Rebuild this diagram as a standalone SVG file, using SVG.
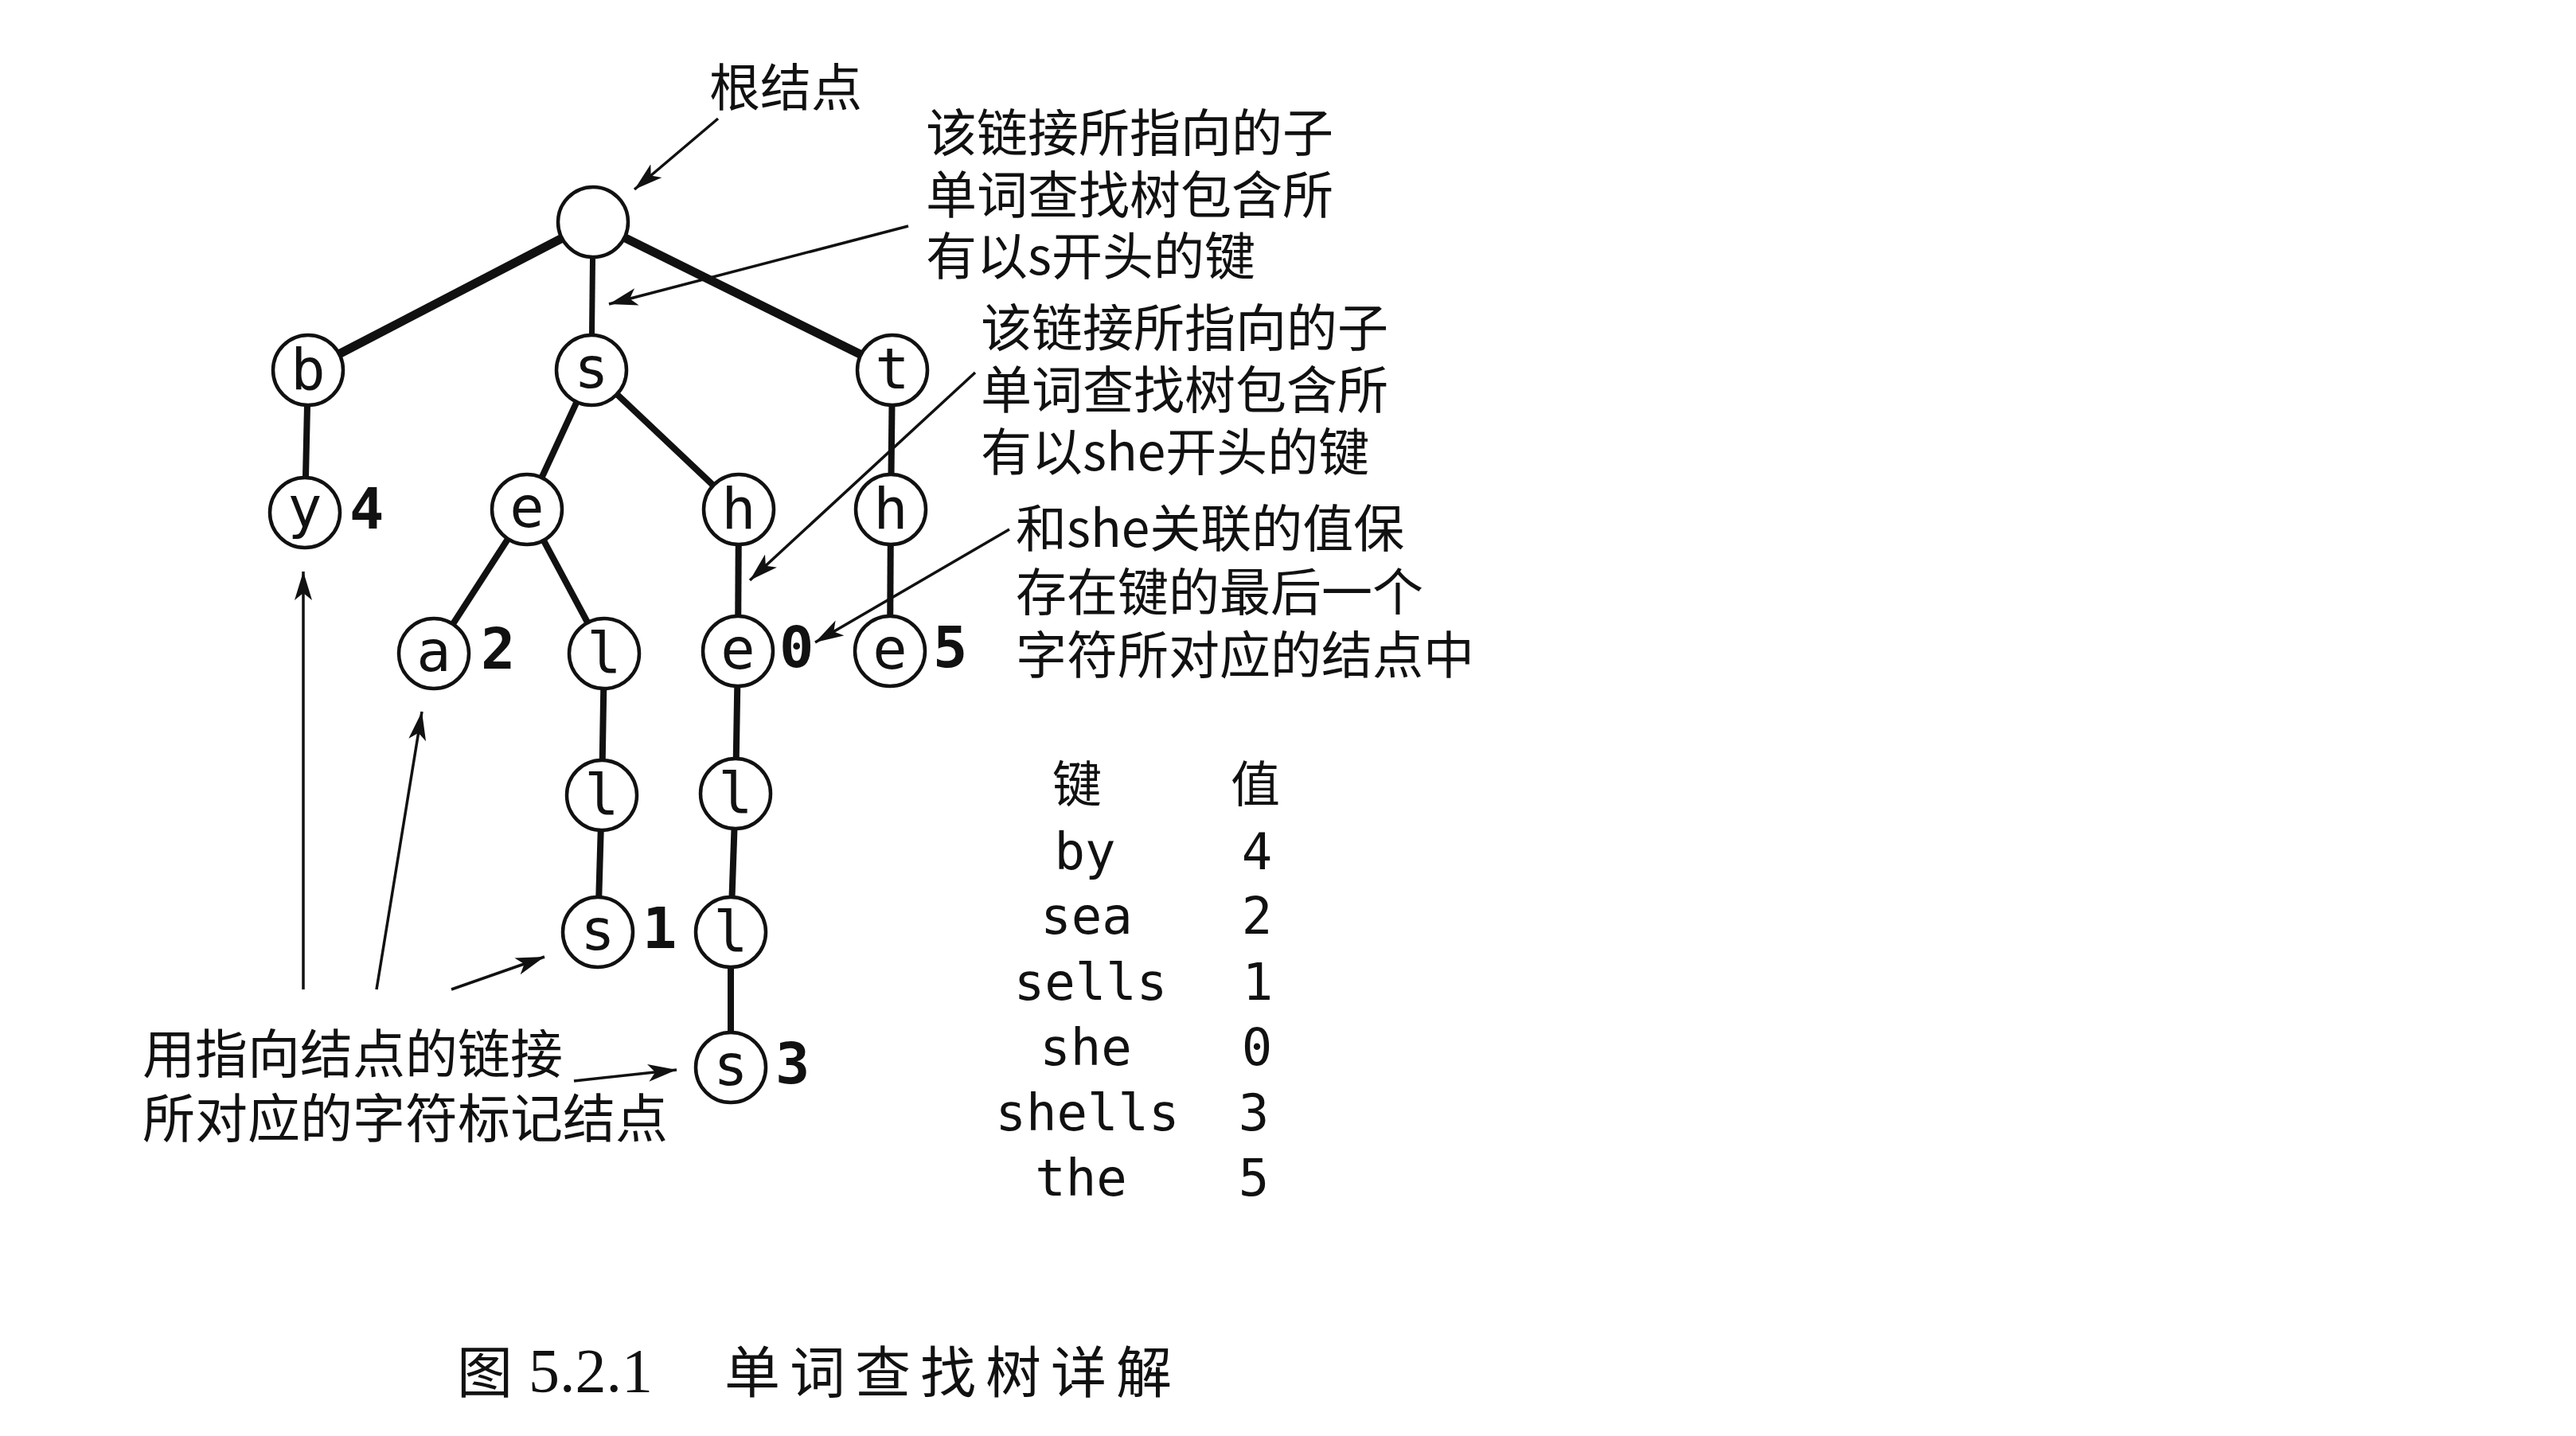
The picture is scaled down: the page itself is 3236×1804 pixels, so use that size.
<svg xmlns="http://www.w3.org/2000/svg" width="3236" height="1804" viewBox="0 0 3236 1804">
  <defs>
    <style>
      .edge { stroke: #111; stroke-width: 8; stroke-linecap: butt; fill: none; }
      .thick { stroke-width: 11; }
      .thin { stroke-width: 7; }
      .ann { stroke: #111; stroke-width: 3.5; fill: none; marker-end: url(#arrow); }
      .node circle { fill: #fff; stroke: #111; stroke-width: 4.5; }
      .node text { font-family: "DejaVu Sans Mono", "Liberation Mono", monospace; font-size: 72px; text-anchor: middle; fill: #111; }
      .val { font-family: "DejaVu Sans", "Liberation Sans", sans-serif; font-weight: bold; font-size: 57px; fill: #111; }
      .cjk { font-family: "Noto Sans CJK SC", "Noto Sans", sans-serif; font-size: 64px; fill: #111; }
      .mono { font-family: "DejaVu Sans Mono", "Liberation Mono", monospace; font-size: 64px; fill: #111; text-anchor: middle; }
      .cap { font-family: "Noto Sans CJK SC", sans-serif; font-size: 70px; fill: #111; }
      .capnum { font-family: "Liberation Serif", serif; font-size: 78px; fill: #111; }
    </style>
    <marker id="arrow" viewBox="0 0 36 22" refX="36" refY="11" markerWidth="36" markerHeight="22" markerUnits="userSpaceOnUse" orient="auto">
      <path d="M0,0 L36,11 L0,22 L9,11 z" fill="#111"/>
    </marker>
  </defs>
  <rect width="3236" height="1804" fill="#ffffff"/>

  <g id="connectors">
    <line class="edge thick" x1="745" y1="279" x2="387" y2="465"/>
    <line class="edge thin" x1="745" y1="279" x2="743" y2="465"/>
    <line class="edge thick" x1="745" y1="279" x2="1121" y2="465"/>
    <line class="edge" x1="387" y1="465" x2="383" y2="644"/>
    <line class="edge" x1="743" y1="465" x2="662" y2="640"/>
    <line class="edge" x1="743" y1="465" x2="928" y2="640"/>
    <line class="edge" x1="1121" y1="465" x2="1119" y2="640"/>
    <line class="edge" x1="662" y1="640" x2="545" y2="821"/>
    <line class="edge" x1="662" y1="640" x2="759" y2="821"/>
    <line class="edge" x1="928" y1="640" x2="927" y2="818"/>
    <line class="edge" x1="1119" y1="640" x2="1118" y2="818"/>
    <line class="edge" x1="759" y1="821" x2="756" y2="999"/>
    <line class="edge" x1="927" y1="818" x2="924" y2="997"/>
    <line class="edge" x1="756" y1="999" x2="751" y2="1171"/>
    <line class="edge" x1="924" y1="997" x2="918" y2="1171"/>
    <line class="edge" x1="918" y1="1171" x2="918" y2="1341"/>
  </g>

  <g id="node-root" class="node"><circle cx="745" cy="279" r="44"/></g>
  <g id="node-b" class="node"><circle cx="387" cy="465" r="44"/><text x="387" y="489">b</text></g>
  <g id="node-s" class="node"><circle cx="743" cy="465" r="44"/><text x="743" y="487">s</text></g>
  <g id="node-t" class="node"><circle cx="1121" cy="465" r="44"/><text x="1121" y="488">t</text></g>
  <g id="node-by" class="node"><circle cx="383" cy="644" r="44"/><text x="383" y="662">y</text><text class="val" x="439" y="664" style="text-anchor:start">4</text></g>
  <g id="node-se" class="node"><circle cx="662" cy="640" r="44"/><text x="662" y="662">e</text></g>
  <g id="node-sh" class="node"><circle cx="928" cy="640" r="44"/><text x="928" y="664">h</text></g>
  <g id="node-th" class="node"><circle cx="1119" cy="640" r="44"/><text x="1119" y="664">h</text></g>
  <g id="node-sea" class="node"><circle cx="545" cy="821" r="44"/><text x="545" y="843">a</text><text class="val" x="604" y="840" style="text-anchor:start">2</text></g>
  <g id="node-sel" class="node"><circle cx="759" cy="821" r="44"/><text x="759" y="845">l</text></g>
  <g id="node-she" class="node"><circle cx="927" cy="818" r="44"/><text x="927" y="840">e</text><text class="val" x="979" y="838" style="text-anchor:start">0</text></g>
  <g id="node-the" class="node"><circle cx="1118" cy="818" r="44"/><text x="1118" y="840">e</text><text class="val" x="1172" y="838" style="text-anchor:start">5</text></g>
  <g id="node-sell" class="node"><circle cx="756" cy="999" r="44"/><text x="756" y="1023">l</text></g>
  <g id="node-shel" class="node"><circle cx="924" cy="997" r="44"/><text x="924" y="1021">l</text></g>
  <g id="node-sells" class="node"><circle cx="751" cy="1171" r="44"/><text x="751" y="1193">s</text><text class="val" x="807" y="1191" style="text-anchor:start">1</text></g>
  <g id="node-shell" class="node"><circle cx="918" cy="1171" r="44"/><text x="918" y="1195">l</text></g>
  <g id="node-shells" class="node"><circle cx="918" cy="1341" r="44"/><text x="918" y="1363">s</text><text class="val" x="974" y="1361" style="text-anchor:start">3</text></g>

  <g id="annotation-arrows">
    <line class="ann" x1="902" y1="149" x2="797" y2="238"/>
    <line class="ann" x1="1141" y1="284" x2="765" y2="382"/>
    <line class="ann" x1="1225" y1="468" x2="942" y2="729"/>
    <line class="ann" x1="1268" y1="665" x2="1024" y2="807"/>
    <line class="ann" x1="381" y1="1243" x2="381" y2="718"/>
    <line class="ann" x1="473" y1="1243" x2="530" y2="894"/>
    <line class="ann" x1="567" y1="1243" x2="684" y2="1202"/>
    <line class="ann" x1="721" y1="1358" x2="850" y2="1344"/>
  </g>

  <g id="label-root"><text class="cjk" x="891" y="133">根结点</text></g>
  <g id="label-s">
    <text class="cjk" x="1163" y="190">该链接所指向的子</text>
    <text class="cjk" x="1163" y="268">单词查找树包含所</text>
    <text class="cjk" x="1163" y="345">有以s开头的键</text>
  </g>
  <g id="label-she">
    <text class="cjk" x="1232" y="435">该链接所指向的子</text>
    <text class="cjk" x="1232" y="513">单词查找树包含所</text>
    <text class="cjk" x="1232" y="591">有以she开头的键</text>
  </g>
  <g id="label-value">
    <text class="cjk" x="1276" y="687">和she关联的值保</text>
    <text class="cjk" x="1276" y="767">存在键的最后一个</text>
    <text class="cjk" x="1276" y="846">字符所对应的结点中</text>
  </g>
  <g id="label-chars">
    <text class="cjk" x="179" y="1348" style="font-size:66px">用指向结点的链接</text>
    <text class="cjk" x="179" y="1429" style="font-size:66px">所对应的字符标记结点</text>
  </g>

  <g id="table">
    <text class="cjk" x="1353" y="1008" style="text-anchor:middle;font-size:62px">键</text>
    <text class="cjk" x="1577" y="1008" style="text-anchor:middle;font-size:62px">值</text>
    <text class="mono" x="1363" y="1092">by</text>
    <text class="mono" x="1365" y="1173">sea</text>
    <text class="mono" x="1370" y="1256">sells</text>
    <text class="mono" x="1364" y="1338">she</text>
    <text class="mono" x="1366" y="1420">shells</text>
    <text class="mono" x="1358" y="1502">the</text>
    <text class="mono" x="1579" y="1092">4</text>
    <text class="mono" x="1579" y="1173">2</text>
    <text class="mono" x="1580" y="1256">1</text>
    <text class="mono" x="1579" y="1338">0</text>
    <text class="mono" x="1575" y="1420">3</text>
    <text class="mono" x="1575" y="1502">5</text>
  </g>

  <g id="caption">
    <text class="cap" x="574" y="1750">图</text>
    <text class="capnum" x="664" y="1748">5.2.1</text>
    <text class="cap" x="910" y="1750" style="letter-spacing:12px">单词查找树详解</text>
  </g>
</svg>
